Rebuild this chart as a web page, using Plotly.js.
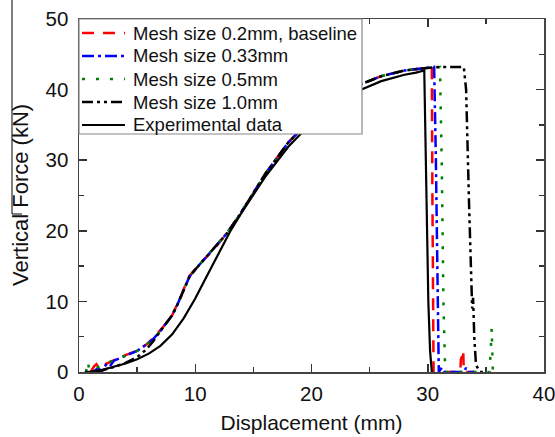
<!DOCTYPE html>
<html>
<head>
<meta charset="utf-8">
<script src="https://cdn.plot.ly/plotly-3.0.1.min.js"></script>
<style>html,body{margin:0;padding:0;background:#fff;}#chart{width:555px;height:437px;}</style>
</head>
<body>
<div id="chart"></div>
<script>
// Experimental data
var expX = [0.5, 1, 2, 3, 4, 5, 6, 7, 8, 9, 10, 11, 12, 13, 14, 15, 16, 18, 20, 22, 24, 26, 28, 29.0, 29.7, 29.9, 30.05, 30.2, 30.35];
var expY = [0, 0.05, 0.3, 0.7, 1.2, 1.8, 2.6, 3.7, 5.3, 7.6, 10.4, 13.6, 16.8, 19.9, 22.6, 25.1, 27.6, 31.9, 35.3, 37.9, 39.8, 41.2, 42.1, 42.4, 42.7, 24, 10, 3, 0];

// Mesh size 0.2mm, baseline
var m02X = [1.0, 1.3, 1.5, 1.7, 2.0, 3.0, 4.0, 5.0, 5.8, 6.4, 7.0, 7.5, 8.0, 8.4, 8.8, 9.1, 9.5, 10.1, 10.8, 11.5, 12.7, 13.8, 15, 16, 18, 20, 22, 24, 26, 28, 29.5, 30.35, 30.4, 30.45, 30.5, 31.5, 32.8, 32.85, 32.95, 33.05, 33.1, 34];
var m02Y = [0, 0.8, 1.1, 0.6, 0.9, 1.7, 2.4, 3.0, 3.9, 4.8, 5.9, 6.9, 8.0, 9.3, 10.8, 12.1, 13.6, 14.8, 16.0, 17.2, 19.6, 22.2, 25.3, 28.0, 32.5, 35.9, 38.6, 40.6, 41.9, 42.7, 43.0, 43.2, 25, 5, 0, 0, 0, 1.8, 2.2, 3.1, 0, 0];

// Mesh size 0.33mm
var m033X = [1.2, 1.6, 2.0, 2.3, 2.6, 3.0, 4.0, 5.0, 5.8, 6.4, 7.0, 7.5, 8.0, 8.4, 8.8, 9.1, 9.5, 10.1, 10.8, 11.5, 12.7, 13.8, 15, 16, 18, 20, 22, 24, 26, 28, 29.5, 30.55, 30.7, 30.85, 30.95, 31.2, 31.4, 33.1, 33.3, 33.5, 34];
var m033Y = [0, 0.5, 0.2, 1.0, 0.7, 1.6, 2.3, 3.0, 3.9, 4.7, 5.8, 6.9, 8.0, 9.3, 10.8, 12.1, 13.5, 14.7, 16.0, 17.3, 19.6, 22.2, 25.3, 28.0, 32.5, 35.9, 38.6, 40.6, 41.9, 42.7, 43.0, 43.2, 30, 10, 0, 0.6, 0, 0, 0.6, 0, 0];

// Mesh size 0.5mm
var m05X = [0.6, 0.75, 0.9, 1.2, 2.0, 3.0, 4.0, 5.0, 5.8, 6.4, 7.0, 7.5, 8.0, 8.4, 8.8, 9.1, 9.5, 10.1, 10.8, 11.5, 12.7, 13.8, 15, 16, 18, 20, 22, 24, 26, 28, 29.5, 31.05, 31.2, 31.35, 31.5, 32, 35.3, 35.4, 35.5, 35.6, 36];
var m05Y = [0, 1.5, 0.2, 0.3, 1.0, 1.7, 2.3, 3.0, 3.9, 4.7, 5.8, 6.9, 8.0, 9.3, 10.8, 12.1, 13.5, 14.7, 16.0, 17.3, 19.6, 22.2, 25.3, 28.0, 32.5, 35.9, 38.6, 40.6, 41.9, 42.7, 43.0, 43.2, 30, 10, 0, 0, 0, 2.5, 6.2, 0, 0];

// Mesh size 1.0mm
var m10X = [1.5, 2.0, 3.0, 4.0, 5.0, 5.8, 6.4, 7.0, 7.5, 8.0, 8.4, 8.8, 9.1, 9.5, 10.1, 10.8, 11.5, 12.7, 13.8, 15, 16, 18, 20, 22, 24, 26, 28, 29.5, 31, 33.1, 33.3, 33.55, 33.75, 33.82, 33.9, 34.0, 34.15, 34.3, 34.5, 35];
var m10Y = [0, 0.2, 0.7, 1.3, 2.1, 3.2, 4.4, 5.8, 6.9, 8.0, 9.3, 10.8, 12.1, 13.5, 14.7, 16.0, 17.3, 19.6, 22.2, 25.3, 28.0, 32.5, 35.9, 38.6, 40.6, 41.9, 42.7, 43.0, 43.2, 43.2, 40, 24, 11, 9, 10.5, 5, 1, 0.5, 0, 0];

var seriesNames = ['Mesh size 0.2mm, baseline', 'Mesh size 0.33mm', 'Mesh size 0.5mm', 'Mesh size 1.0mm', 'Experimental data'];
var seriesX = [m02X, m033X, m05X, m10X, expX];
var seriesY = [m02Y, m033Y, m05Y, m10Y, expY];
var seriesColors = ['#ff0000', '#0000ff', '#008000', '#000000', '#000000'];
var seriesDash = ['12px,9px', '12px,4px,3px,4px', '3px,11px', '11px,4px,3px,4px,3px,4px', 'solid'];
var seriesWidth = [2.5, 2.5, 2.5, 2.5, 2.2];
var xTitle = 'Displacement (mm)';
var yTitle = 'Vertical Force (kN)';

var traces = seriesNames.map(function (n, i) {
  return {x: seriesX[i], y: seriesY[i], name: n, mode: 'lines', showlegend: false,
          line: {color: seriesColors[i], width: seriesWidth[i], dash: seriesDash[i]}};
});

// legend drawn in paper coordinates (plot area: x 79..544 px, y 19..372 px)
function px2x(p) { return (p - 79) / 465; }
function py2y(p) { return (372 - p) / 353; }
var shapes = [
  {type: 'line', xref: 'paper', yref: 'paper', x0: px2x(12), x1: px2x(12), y0: py2y(0), y1: py2y(214), line: {color: '#000', width: 1}},
  {type: 'line', xref: 'paper', yref: 'paper', x0: px2x(12), x1: px2x(22), y0: py2y(214), y1: py2y(214), line: {color: '#000', width: 1}},
  {type: 'rect', xref: 'paper', yref: 'paper', x0: px2x(79), x1: px2x(362), y0: py2y(134), y1: py2y(19),
   fillcolor: '#fff', line: {color: '#888', width: 1.2}, layer: 'above'}
];
var fontFam = 'Liberation Sans, Arial, sans-serif';
var annotations = [
  {xref: 'paper', yref: 'paper', x: px2x(20), y: py2y(195), text: yTitle, textangle: -90, showarrow: false,
   xanchor: 'center', yanchor: 'middle', font: {family: fontFam, size: 22, color: '#111'}}
];
seriesNames.forEach(function (n, i) {
  var yy = py2y(33 + 23 * i);
  shapes.push({type: 'line', xref: 'paper', yref: 'paper', x0: px2x(82), x1: px2x(125), y0: yy, y1: yy,
               line: {color: seriesColors[i], width: seriesWidth[i], dash: seriesDash[i]}, layer: 'above'});
  annotations.push({xref: 'paper', yref: 'paper', x: px2x(131), y: yy, text: n, showarrow: false,
                    xanchor: 'left', yanchor: 'middle', font: {family: fontFam, size: 18.5, color: '#111'}});
});

var layout = {
  width: 555, height: 437,
  margin: {l: 79, r: 11, t: 19, b: 65},
  paper_bgcolor: '#fff', plot_bgcolor: '#fff',
  font: {family: fontFam, size: 20, color: '#111'},
  showlegend: false,
  xaxis: {range: [0, 40], dtick: 10, tick0: 0, ticks: 'inside', ticklen: 8, tickwidth: 1.5, tickcolor: '#333',
          showline: true, linecolor: '#444', linewidth: 1.5, mirror: 'ticks', showgrid: false, zeroline: false,
          minor: {dtick: 5, ticks: 'inside', ticklen: 5, tickwidth: 1.5, tickcolor: '#333', showgrid: false},
          ticklabelstandoff: 3, ticklabeloverflow: 'allow',
          tickfont: {size: 20.5}, title: {text: xTitle, font: {size: 21}, standoff: 11}},
  yaxis: {range: [0, 50], dtick: 10, tick0: 0, ticks: 'inside', ticklen: 8, tickwidth: 1.5, tickcolor: '#333',
          showline: true, linecolor: '#444', linewidth: 1.5, mirror: 'ticks', showgrid: false, zeroline: false,
          minor: {dtick: 5, ticks: 'inside', ticklen: 5, tickwidth: 1.5, tickcolor: '#333', showgrid: false},
          ticklabelstandoff: 5, ticklabeloverflow: 'allow',
          tickfont: {size: 20.5}},
  shapes: shapes,
  annotations: annotations
};

Plotly.newPlot('chart', traces, layout, {staticPlot: true, displayModeBar: false});
</script>
</body>
</html>
